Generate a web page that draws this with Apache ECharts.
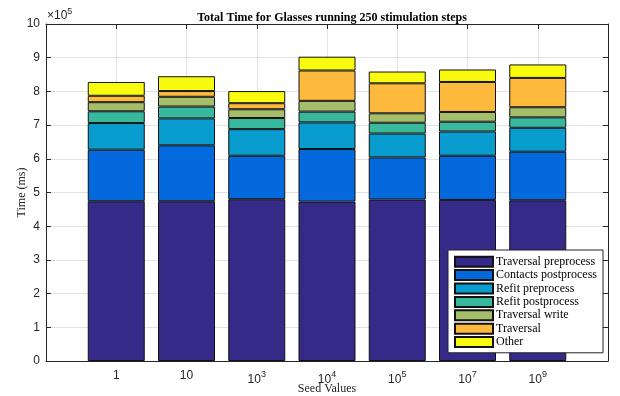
<!DOCTYPE html>
<html><head><meta charset="utf-8">
<script src="https://cdn.jsdelivr.net/npm/echarts@6/dist/echarts.min.js"></script>
<style>html,body{margin:0;padding:0;background:#fff}#c{width:620px;height:396px}</style>
</head><body><div id="c"></div>
<script>
const seeds = ['1', '10', '10^3', '10^4', '10^5', '10^7', '10^9'];
const seriesNames = ['Traversal preprocess', 'Contacts postprocess', 'Refit preprocess', 'Refit postprocess', 'Traversal write', 'Traversal', 'Other'];
const traversalPreprocess = [474000, 474000, 480000, 473000, 479000, 478000, 477000];
const contactsPostprocess = [153000, 166000, 129000, 156000, 125000, 131000, 144000];
const refitPreprocess     = [79000, 80000, 79000, 79000, 71000, 72000, 71000];
const refitPostprocess    = [35000, 35000, 33000, 32000, 32000, 29000, 31000];
const traversalWrite      = [27000, 29000, 26000, 32000, 28000, 29000, 30000];
const traversal           = [19000, 17000, 18000, 90000, 89000, 89000, 87000];
const other               = [41000, 44000, 36000, 41000, 35000, 37000, 40000];
const yTicks = [0,1,2,3,4,5,6,7,8,9,10];
const colors = ['#352a87', '#0569de', '#089ccf', '#38b99e', '#a5be6a', '#fdba3c', '#f9fb0e'];

const allData = [traversalPreprocess, contactsPostprocess, refitPreprocess, refitPostprocess, traversalWrite, traversal, other];
const cats = [''].concat(seeds, ['']);
const serif = 'Liberation Serif';
const sans = 'Liberation Sans';

function fmtCat(v) {
  if (!v) return '';
  const p = v.split('^');
  if (p.length === 2) return '{b|' + p[0] + '}{s|' + p[1] + '}';
  return '{b|' + v + '}';
}

const series = seriesNames.map((n, i) => ({
  name: n, type: 'bar', stack: 'all', barWidth: 57,
  data: [null].concat(allData[i], [null]),
  itemStyle: { color: colors[i], borderColor: '#111', borderWidth: 1 },
  emphasis: { disabled: true }
}));

const chart = echarts.init(document.getElementById('c'), null, { renderer: 'canvas' });
chart.setOption({
  animation: false,
  backgroundColor: '#fff',
  title: {
    text: 'Total Time for Glasses running 250 stimulation steps',
    left: 327, top: 7, textAlign: 'center',
    textStyle: { fontFamily: serif, fontWeight: 'bold', fontSize: 12, color: '#000' }
  },
  grid: { left: 46, right: 12, top: 24, bottom: 35, containLabel: false, outerBoundsMode: 'none' },
  legend: {
    orient: 'vertical', left: 448, top: 250,
    icon: 'rect',
    itemWidth: 38, itemHeight: 10, itemGap: 0,
    padding: [5, 6, 4, 6],
    backgroundColor: '#fff', borderColor: '#222', borderWidth: 1,
    textStyle: { fontFamily: serif, fontSize: 12, lineHeight: 13.4, color: '#000', padding: [0, 0, 0, -2] },
    data: seriesNames
  },
  xAxis: [{
    type: 'category', data: cats, boundaryGap: false,
    axisLine: { onZero: false, lineStyle: { color: '#262626', width: 1 } },
    axisTick: { inside: true, length: 5, lineStyle: { color: '#262626' } },
    splitLine: { show: true, lineStyle: { color: '#e3e3e3', width: 1 } },
    axisLabel: {
      interval: 0, margin: 9, formatter: fmtCat,
      rich: {
        b: { fontFamily: sans, fontSize: 12, color: '#262626' },
        s: { fontFamily: sans, fontSize: 9, color: '#262626', padding: [0, 0, 10, 0] }
      }
    },
    name: 'Seed Values', nameLocation: 'middle', nameGap: 22, nameMoveOverlap: false,
    nameTextStyle: { fontFamily: serif, fontSize: 12, color: '#262626' }
  }, {
    type: 'category', data: cats, boundaryGap: false, position: 'top',
    axisLine: { show: true, onZero: false, lineStyle: { color: '#262626', width: 1 } },
    axisTick: { inside: true, length: 5, lineStyle: { color: '#262626' } },
    axisLabel: { show: false }, splitLine: { show: false }
  }],
  yAxis: [{
    type: 'value', min: 0, max: 1000000, interval: 100000,
    axisLine: { show: true, onZero: false, lineStyle: { color: '#262626', width: 1 } },
    axisTick: { show: true, inside: true, length: 5, lineStyle: { color: '#262626' } },
    splitLine: { show: true, lineStyle: { color: '#e3e3e3', width: 1 } },
    axisLabel: {
      margin: 6, fontFamily: sans, fontSize: 12, color: '#262626',
      formatter: v => String(yTicks[Math.round(v / 100000)])
    },
    name: 'Time (ms)', nameLocation: 'middle', nameGap: 18, nameMoveOverlap: false,
    nameTextStyle: { fontFamily: serif, fontSize: 12, color: '#262626' }
  }, {
    type: 'value', min: 0, max: 1000000, interval: 100000, position: 'right',
    axisLine: { show: true, onZero: false, lineStyle: { color: '#262626', width: 1 } },
    axisTick: { show: true, inside: true, length: 5, lineStyle: { color: '#262626' } },
    axisLabel: { show: false }, splitLine: { show: false }
  }],
  graphic: [{
    type: 'text', left: 47, top: 7,
    style: {
      text: '{a|×10}{s|5}',
      rich: {
        a: { fontFamily: sans, fontSize: 12, fill: '#262626' },
        s: { fontFamily: sans, fontSize: 9, fill: '#262626', padding: [0, 0, 8, 0] }
      }
    }
  }],
  series: series
});
</script></body></html>
